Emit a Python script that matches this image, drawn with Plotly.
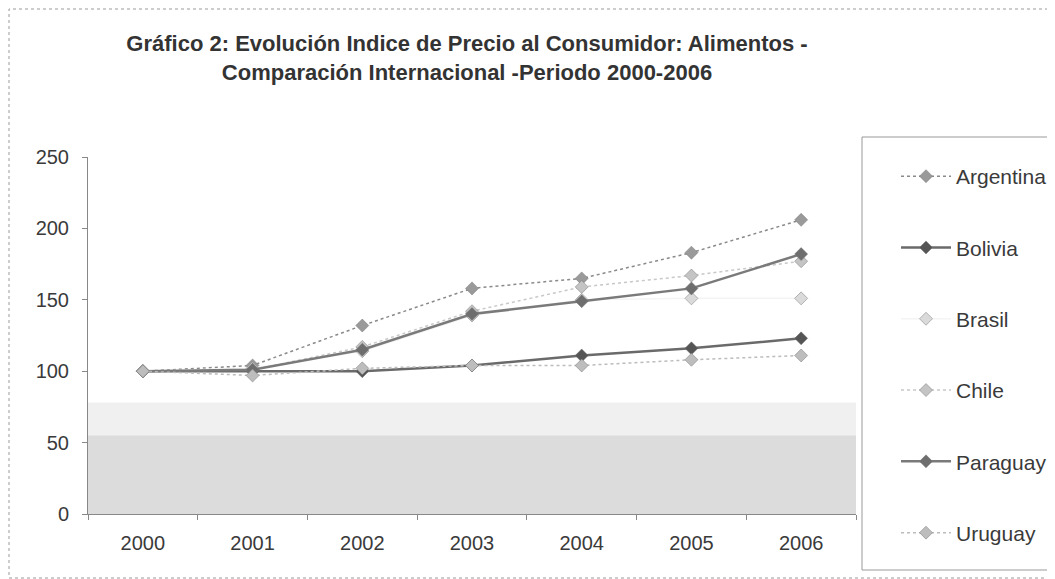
import plotly.graph_objects as go

years = ["2000", "2001", "2002", "2003", "2004", "2005", "2006"]
argentina = [100, 104, 132, 158, 165, 183, 206]
bolivia = [100, 100, 100, 104, 111, 116, 123]
brasil = [100, 102, 114, 139, 150, 151, 151]
chile = [100, 101, 117, 142, 159, 167, 177]
paraguay = [100, 101, 115, 140, 149, 158, 182]
uruguay = [100, 97, 102, 104, 104, 108, 111]

series = [
    ("Argentina", argentina, "#8a8a8a", "#9a9a9a", "dot", 1.5),
    ("Bolivia", bolivia, "#6a6a6a", "#555555", "solid", 2.5),
    ("Brasil", brasil, "#f4f4f4", "#dadada", "solid", 1.5),
    ("Chile", chile, "#c8c8c8", "#c4c4c4", "dot", 1.5),
    ("Paraguay", paraguay, "#7a7a7a", "#6e6e6e", "solid", 2.5),
    ("Uruguay", uruguay, "#bcbcbc", "#bdbdbd", "dot", 1.5),
]

# figure pixel geometry (page body adds an 8px offset)
W, H = 1047, 571
L, R, T, B = 80, 848, 149, 506
PW, PH = R - L, B - T


def px(x):
    return (x - L) / PW


def py(y):
    return (B - y) / PH


fig = go.Figure()
for name, vals, lc, mc, dash, lw in series:
    fig.add_trace(go.Scatter(
        x=years, y=vals, name=name, mode="lines+markers",
        line=dict(color=lc, width=lw, dash=dash),
        marker=dict(symbol="diamond", size=10, color=mc,
                    line=dict(color="#777777", width=0.5)),
        legendgroup=name,
    ))

# scan shading in lower part of plot area
fig.add_shape(type="rect", xref="paper", yref="y", x0=0, x1=1, y0=0, y1=78,
              fillcolor="rgba(205,205,205,0.30)", line_width=0, layer="below")
fig.add_shape(type="rect", xref="paper", yref="y", x0=0, x1=1, y0=0, y1=55,
              fillcolor="rgba(175,175,175,0.30)", line_width=0, layer="below")
# outer chart border
fig.add_shape(type="rect", xref="paper", yref="paper",
              x0=px(1), x1=px(W - 1), y0=py(H - 1), y1=py(1),
              line=dict(color="#9a9a9a", width=1, dash="dot"), fillcolor="rgba(0,0,0,0)")
# legend box
fig.add_shape(type="rect", xref="paper", yref="paper",
              x0=px(854), x1=px(1042), y0=py(562), y1=py(129),
              line=dict(color="#999999", width=1), fillcolor="rgba(0,0,0,0)")

fig.update_layout(
    width=W, height=H,
    margin=dict(l=L, r=W - R, t=T, b=H - B, autoexpand=False),
    paper_bgcolor="white", plot_bgcolor="white",
    font=dict(family="Liberation Sans, Arial, sans-serif", color="#333333"),
    title=dict(
        text="Gráfico 2: Evolución Indice de Precio al Consumidor: Alimentos -<br>Comparación Internacional -Periodo 2000-2006",
        x=459 / W, xanchor="center", y=1 - 43 / H, yanchor="top",
        font=dict(size=22, family="Liberation Sans, Arial, sans-serif", color="#333333", weight="bold"),
    ),
    xaxis=dict(
        type="category", range=[-0.5, 6.5], showgrid=False,
        showline=True, linecolor="#888888", linewidth=1,
        ticks="outside", ticklen=5, tickcolor="#888888", tickson="boundaries",
        ticklabelstandoff=11,
        tickfont=dict(size=20, color="#3a3a3a"),
    ),
    yaxis=dict(
        range=[0, 250], tickvals=[0, 50, 100, 150, 200, 250], showgrid=False,
        showline=True, linecolor="#888888", linewidth=1, zeroline=False,
        ticks="outside", ticklen=5, tickcolor="#888888",
        ticklabelstandoff=9,
        tickfont=dict(size=20, color="#3a3a3a"),
    ),
    legend=dict(
        x=px(888), xanchor="left", y=py(148), yanchor="top",
        borderwidth=0, bgcolor="rgba(0,0,0,0)",
        font=dict(size=21, color="#3a3a3a"),
        tracegroupgap=41, itemwidth=50, maxheight=520,
    ),
    showlegend=True,
)

fig.write_html("out.html")
